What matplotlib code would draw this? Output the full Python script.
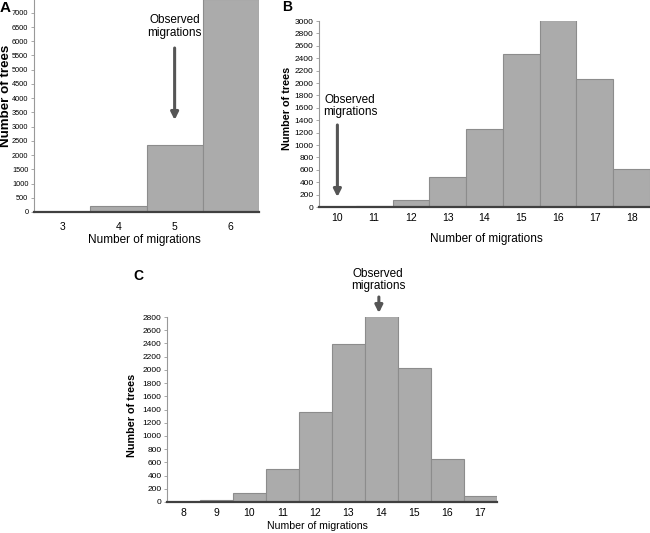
import numpy as np
import matplotlib.pyplot as plt

plt.rcParams['font.family'] = ['Liberation Sans', 'DejaVu Sans']

# panel A
a_cats = [3, 4, 5, 6]
a_vals = [5, 210, 2360, 7500]
# panel B
b_cats = [10, 11, 12, 13, 14, 15, 16, 17, 18]
b_vals = [8, 20, 118, 484, 1263, 2473, 3020, 2070, 607]
# panel C
c_cats = [8, 9, 10, 11, 12, 13, 14, 15, 16, 17]
c_vals = [5, 25, 136, 503, 1357, 2387, 2810, 2030, 648, 85]

W, H = 650, 533
fig = plt.figure(figsize=(6.5, 5.33), dpi=100)

def make_axes(left, right, top, bottom):
    return fig.add_axes([left / W, 1 - bottom / H, (right - left) / W, (bottom - top) / H])

def histo(ax, cats, vals, xlim, ylim, ystep, ytick_fs, xlab_fs, ylab_fs, xpad):
    ax.bar(cats, vals, width=1.0, color='#ababab', edgecolor='#8c8c8c', linewidth=0.8)
    ax.set_xlim(xlim)
    ax.set_ylim(ylim)
    ax.set_xticks(cats)
    ax.set_yticks(np.arange(0, ylim[1] + 1, ystep))
    ax.spines['top'].set_visible(False)
    ax.spines['right'].set_visible(False)
    ax.spines['left'].set_color('#999999')
    ax.spines['left'].set_linewidth(0.8)
    ax.spines['bottom'].set_color('#404040')
    ax.spines['bottom'].set_linewidth(1.6)
    ax.spines['bottom'].set_zorder(5)
    ax.tick_params(axis='y', labelsize=ytick_fs, length=2, width=0.6, color='#999999', pad=2)
    ax.tick_params(axis='x', labelsize=7.5, length=0, pad=xpad)
    ax.set_xlabel('Number of migrations', fontsize=xlab_fs)
    ax.set_ylabel('Number of trees', fontsize=ylab_fs, fontweight='bold')

arrow = dict(arrowstyle='-|>', lw=2.2, color='#555555', mutation_scale=11, shrinkA=0, shrinkB=0)

# A
axA = make_axes(34, 259, 0, 212)
histo(axA, a_cats, a_vals, (2.5, 6.5), (0, 7450), 500, 5.3, 8.5, 9.6, 7)
axA.xaxis.set_label_coords(0.49, -0.105)
axA.yaxis.set_label_coords(-0.098, 0.55)
axA.annotate('', xy=(5, 3233), xytext=(5, 5763), arrowprops=arrow, annotation_clip=False)
axA.text(5, 6520, 'Observed\nmigrations', ha='center', va='center', fontsize=8.5, linespacing=1.05)
fig.text(0 / W, 1 - 8 / H, 'A', fontsize=11, fontweight='bold', va='center')

# B
axB = make_axes(319, 650, 21, 207)
histo(axB, b_cats, b_vals, (9.5, 18.5), (0, 3000), 200, 6, 8.5, 7.8, 4)
axB.xaxis.set_label_coords(0.507, -0.14)
axB.yaxis.set_label_coords(-0.082, 0.53)
axB.annotate('', xy=(10, 161), xytext=(10, 1323), arrowprops=arrow, annotation_clip=False)
axB.text(10.34, 1629, 'Observed\nmigrations', ha='center', va='center', fontsize=8.5, linespacing=1.05)
fig.text(282 / W, 1 - 7 / H, 'B', fontsize=10, fontweight='bold', va='center')

# C
axC = make_axes(167, 497, 317, 502)
histo(axC, c_cats, c_vals, (7.5, 17.5), (0, 2800), 200, 6, 7.6, 7.8, 4)
axC.xaxis.set_label_coords(0.455, -0.105)
axC.yaxis.set_label_coords(-0.091, 0.47)
axC.annotate('', xy=(13.92, 2860), xytext=(13.92, 3103), arrowprops=arrow, annotation_clip=False)
axC.text(13.9, 3360, 'Observed\nmigrations', ha='center', va='center', fontsize=8.5, linespacing=1.05)
fig.text(133 / W, 1 - 276 / H, 'C', fontsize=10, fontweight='bold', va='center')

fig.savefig('out.png', dpi=100)
